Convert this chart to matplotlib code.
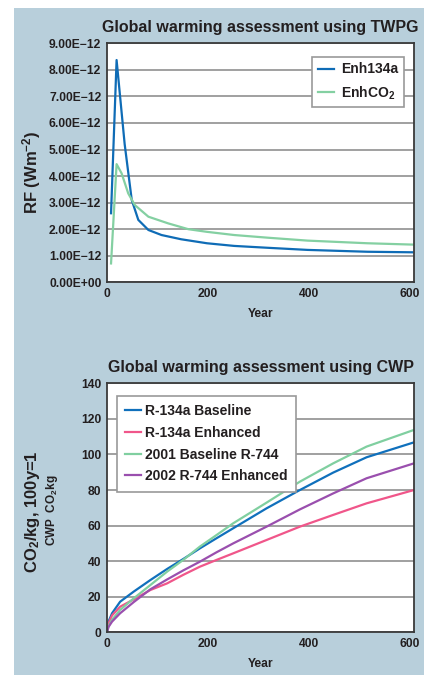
import numpy as np
import matplotlib
matplotlib.use("Agg")
import matplotlib.pyplot as plt
from matplotlib.patches import Rectangle
from matplotlib.ticker import FuncFormatter, MultipleLocator

plt.rcParams['font.family'] = ['Liberation Sans', 'DejaVu Sans']
plt.rcParams['font.weight'] = 'bold'
plt.rcParams['axes.labelweight'] = 'bold'
plt.rcParams['mathtext.fontset'] = 'custom'
plt.rcParams['mathtext.rm'] = 'Liberation Sans:bold'
plt.rcParams['mathtext.bf'] = 'Liberation Sans:bold'
plt.rcParams['mathtext.default'] = 'rm'

# --- top chart: radiative forcing (units of 1e-12 W/m2)
rf_years = [8, 19, 35, 49, 62, 82, 108, 147, 198, 252, 318, 397, 516, 605]
enh134a = [2.6, 8.37, 5.2, 3.1, 2.35, 1.97, 1.78, 1.62, 1.47, 1.37, 1.30, 1.22, 1.15, 1.13]
co2_years = [8, 19, 29, 42, 55, 82, 121, 161, 198, 252, 318, 397, 516, 605]
enhco2 = [0.71, 4.45, 4.1, 3.35, 2.91, 2.47, 2.22, 2.0, 1.9, 1.78, 1.68, 1.57, 1.47, 1.42]

# --- bottom chart: cumulative CWP
cwp_years = [0, 3, 10, 26, 53, 86, 119, 151, 184, 217, 250, 316, 382, 448, 514, 608]
r134a_base = [0, 6, 10.7, 17.2, 22.9, 29.4, 35.6, 41.2, 47.2, 52.9, 58.5, 69.7, 80, 89.8, 98.4, 106.8]
r134a_enh = [0, 5, 9.5, 14.4, 18.5, 23.8, 27.5, 32.3, 36.9, 40.7, 44.4, 51.9, 59.4, 66, 72.5, 80]
r744_base = [0, 3.5, 7.0, 12.6, 19.1, 26.6, 34.1, 40.7, 48.2, 54.7, 61.3, 72.9, 84.7, 95, 104.4, 113.8]
r744_enh = [0, 3, 6.0, 10.7, 17.0, 24.2, 29.7, 34.8, 39.7, 45.0, 50, 59.4, 69.1, 78.1, 86.6, 95]

W, H = 424, 677
fig = plt.figure(figsize=(W / 100, H / 100), dpi=100, facecolor='white')
fig.patches.append(Rectangle((14 / W, 2 / H), 1 - 14 / W, 667 / H,
                             transform=fig.transFigure, facecolor='#b8cfdb',
                             edgecolor='none', zorder=-10))

text_col = '#231f20'
grid_col = '#999999'
spine_col = '#3a3a3a'


def style_axes(ax):
    ax.set_facecolor('white')
    for s in ax.spines.values():
        s.set_color(spine_col)
        s.set_linewidth(1.3)
    ax.grid(axis='y', color=grid_col, linewidth=1.3)
    ax.set_axisbelow(True)
    ax.tick_params(length=0, labelsize=8.7, colors=text_col, pad=4)
    ax.set_xlim(0, 608)
    ax.xaxis.set_major_locator(MultipleLocator(200))


# top
ax1 = fig.add_axes([107 / W, 1 - 282.3 / H, 307 / W, 239 / H])
style_axes(ax1)
ax1.plot(rf_years, np.array(enh134a) * 1e-12, color='#0f6cb6', lw=1.6, label='Enh134a')
ax1.plot(co2_years, np.array(enhco2) * 1e-12, color='#84d0a2', lw=1.6, label='EnhCO$_2$')
ax1.set_ylim(0, 9e-12)
ax1.yaxis.set_major_locator(MultipleLocator(1e-12))
ax1.yaxis.set_major_formatter(FuncFormatter(lambda v, p: f"{v:.2E}".replace('-', '\u2212')))
ax1.yaxis.get_offset_text().set_visible(False)
ax1.set_xlabel('Year', fontsize=8.7, fontweight='bold', color=text_col, labelpad=6)
ax1.set_title('Global warming assessment using TWPG', fontsize=11.5,
              fontweight='bold', color=text_col, pad=8)
leg1 = ax1.legend(loc='upper right', bbox_to_anchor=(0.967, 0.943), borderaxespad=0,
                  fontsize=10, handlelength=1.2, handletextpad=0.5, labelspacing=0.55,
                  fancybox=False, edgecolor='#999999', framealpha=1)
leg1.get_frame().set_linewidth(1.2)
for t in leg1.get_texts():
    t.set_color(text_col)
fig.text(32 / W, 1 - 172 / H, 'RF (Wm$^{-2}$)', rotation=90, ha='center', va='center',
         fontsize=12, color=text_col)

# bottom
ax2 = fig.add_axes([107 / W, 1 - 632.3 / H, 307 / W, 249 / H])
style_axes(ax2)
ax2.plot(cwp_years, r134a_base, color='#1070bc', lw=1.6, label='R-134a Baseline')
ax2.plot(cwp_years, r134a_enh, color='#f0568a', lw=1.6, label='R-134a Enhanced')
ax2.plot(cwp_years, r744_base, color='#80cfa0', lw=1.6, label='2001 Baseline R-744')
ax2.plot(cwp_years, r744_enh, color='#9a4fae', lw=1.6, label='2002 R-744 Enhanced')
ax2.set_ylim(0, 140)
ax2.yaxis.set_major_locator(MultipleLocator(20))
ax2.set_xlabel('Year', fontsize=8.7, fontweight='bold', color=text_col, labelpad=6)
ax2.set_title('Global warming assessment using CWP', fontsize=11.5,
              fontweight='bold', color=text_col, pad=8)
leg2 = ax2.legend(loc='upper left', bbox_to_anchor=(0.033, 0.949), borderaxespad=0,
                  fontsize=10, handlelength=1.1, handletextpad=0.3, labelspacing=0.55,
                  borderpad=0.6, fancybox=False, edgecolor='#999999', framealpha=1)
leg2.get_frame().set_linewidth(1.2)
for t in leg2.get_texts():
    t.set_color(text_col)
fig.text(33 / W, 1 - 512 / H, 'CO$_2$/kg, 100y=1', rotation=90, ha='center', va='center',
         fontsize=12, color=text_col)
fig.text(52 / W, 1 - 510 / H, 'CWP  CO$_2$kg', rotation=90, ha='center', va='center',
         fontsize=8.5, color=text_col)

fig.savefig('out.png', dpi=100, facecolor='white')
